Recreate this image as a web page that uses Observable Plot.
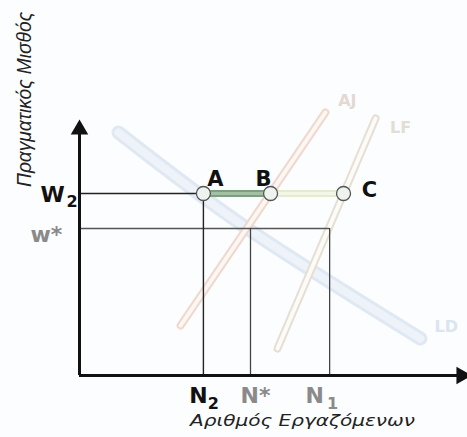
<!DOCTYPE html>
<html>
<head>
<meta charset="utf-8">
<script src="https://cdn.jsdelivr.net/npm/d3@7"></script>
<script src="https://cdn.jsdelivr.net/npm/@observablehq/plot@0.6"></script>
<style>
  html, body { margin: 0; padding: 0; background: #ffffff; }
  svg { display: block; }
</style>
</head>
<body>
<div id="chart"></div>
<script>
// ---- data (abstract units: employment 0–100, real wage 0–100) ----
const employment = { N2: 32.1, Nstar: 44.3, N1: 64.8 };
const wages = { W2: 72.8, wstar: 58.8 };

const demandLD = [ {x: 10.1, y: 97.2}, {x: 43.5, y: 58.8}, {x: 88.3, y: 14.8} ];
const supplyAJ = [ {x: 26.2, y: 20.0}, {x: 63.7, y: 105.2} ];
const laborForceLF = [ {x: 51.3, y: 10.8}, {x: 76.7, y: 102.8} ];

const pointNames = ["A", "B", "C"];
const pointX = [32.1, 49.5, 68.4];

const xTickMain = ["N", "N*", "N"];
const xTickSub = ["2", "", "1"];
const yTickMain = ["W", "w*"];
const yTickSub = ["2", ""];

const yTitle = "Πραγματικός Μισθός";
const xTitle = "Αριθμός Εργαζόμενων";
const curveNames = ["AJ", "LF", "LD"];

// ---- build ----
const pts = pointNames.map((n, i) => ({name: n, x: pointX[i], y: wages.W2}));
const font = "DejaVu Sans, Verdana, sans-serif";
const titleFont = "Liberation Sans, Arial, sans-serif";

function label(d, opts) {
  return Plot.text([d], Object.assign({fontFamily: font, fontWeight: "bold", fontSize: 21, lineAnchor: "middle"}, opts));
}

const xT = [employment.N2, employment.Nstar, employment.N1];
const yT = [wages.W2, wages.wstar];

const chart = Plot.plot({
  width: 467,
  height: 437,
  marginLeft: 79,
  marginRight: 2,
  marginTop: 125,
  marginBottom: 62,
  x: {domain: [0, 100], axis: null},
  y: {domain: [0, 100], axis: null},
  style: {background: "#fcfdfe", fontFamily: font, overflow: "visible"},
  marks: [
    // demand LD (light blue band)
    Plot.line(demandLD, {x: "x", y: "y", curve: "natural", stroke: "#dfe8f3", strokeWidth: 14}),
    Plot.line(demandLD, {x: "x", y: "y", curve: "natural", stroke: "#eef3f9", strokeWidth: 8}),
    // supply AJ
    Plot.line(supplyAJ, {x: "x", y: "y", stroke: "#efd9cf", strokeWidth: 8}),
    Plot.line(supplyAJ, {x: "x", y: "y", stroke: "#fcf7f3", strokeWidth: 4}),
    // labour force LF
    Plot.line(laborForceLF, {x: "x", y: "y", stroke: "#e5dfd4", strokeWidth: 8}),
    Plot.line(laborForceLF, {x: "x", y: "y", stroke: "#fcfbf7", strokeWidth: 4}),

    // guide lines
    Plot.ruleY([wages.W2], {x1: 0, x2: employment.N2, stroke: "#222", strokeWidth: 1.4}),
    Plot.ruleY([wages.wstar], {x1: 0, x2: employment.N1, stroke: "#555", strokeWidth: 1.3}),
    Plot.ruleX([employment.N2], {y1: 0, y2: wages.W2, stroke: "#222", strokeWidth: 1.4}),
    Plot.ruleX([employment.Nstar], {y1: 0, y2: wages.wstar, stroke: "#444", strokeWidth: 1.3}),
    Plot.ruleX([employment.N1], {y1: 0, y2: wages.wstar, stroke: "#444", strokeWidth: 1.3}),

    // A–B (unemployment) and B–C segments
    Plot.ruleY([wages.W2], {x1: pts[0].x, x2: pts[1].x, stroke: "#7d9f80", strokeWidth: 7}),
    Plot.ruleY([wages.W2], {x1: pts[0].x, x2: pts[1].x, stroke: "#a3c0a4", strokeWidth: 3}),
    Plot.ruleY([wages.W2], {x1: pts[1].x, x2: pts[2].x, stroke: "#e6ead2", strokeWidth: 7}),
    Plot.ruleY([wages.W2], {x1: pts[1].x, x2: pts[2].x, stroke: "#f4f6e8", strokeWidth: 3}),

    // axes
    Plot.ruleX([0], {y1: 0, y2: 98, stroke: "#111", strokeWidth: 3}),
    Plot.ruleY([0], {x1: 0, x2: 98, stroke: "#111", strokeWidth: 3}),
    Plot.dot([{x: 0, y: 100}], {x: "x", y: "y", symbol: "triangle", r: 6.5, fill: "#111", dy: 4}),
    Plot.dot([{x: 100, y: 0}], {x: "x", y: "y", symbol: "triangle", r: 6.5, fill: "#111", rotate: 90, dx: -4}),

    // points A, B, C
    Plot.dot(pts, {x: "x", y: "y", r: 7, fill: "#eef3ef", stroke: "#555", strokeWidth: 1.3}),
    label(pts[0], {x: "x", y: "y", text: "name", dx: 12, dy: -14, fill: "#111"}),
    label(pts[1], {x: "x", y: "y", text: "name", dx: -7, dy: -14, fill: "#111"}),
    label(pts[2], {x: "x", y: "y", text: "name", dx: 26, dy: -3, fill: "#111"}),

    // curve labels (faint)
    label(supplyAJ[1], {x: "x", y: "y", text: () => curveNames[0], dx: 22, dy: -12, fill: "#e4d8d2", fontSize: 16}),
    label(laborForceLF[1], {x: "x", y: "y", text: () => curveNames[1], dx: 25, dy: 9, fill: "#e2ded5", fontSize: 16}),
    label(demandLD[2], {x: "x", y: "y", text: () => curveNames[2], dx: 26, dy: -12, fill: "#dbe5ef", fontSize: 16}),

    // x tick labels
    label({x: xT[0]}, {x: "x", text: () => xTickMain[0], frameAnchor: "bottom", dx: -5, dy: 20, fill: "#111", fontSize: 22}),
    label({x: xT[0]}, {x: "x", text: () => xTickSub[0], frameAnchor: "bottom", dx: 10, dy: 28, fill: "#111", fontSize: 16}),
    label({x: xT[1]}, {x: "x", text: () => xTickMain[1], frameAnchor: "bottom", dx: 5, dy: 20, fill: "#8a8a8a", fontSize: 22}),
    label({x: xT[2]}, {x: "x", text: () => xTickMain[2], frameAnchor: "bottom", dx: -15, dy: 20, fill: "#8a8a8a", fontSize: 22}),
    label({x: xT[2]}, {x: "x", text: () => xTickSub[2], frameAnchor: "bottom", dx: 3, dy: 28, fill: "#8a8a8a", fontSize: 16}),

    // y tick labels
    label({y: yT[0]}, {y: "y", text: () => yTickMain[0], frameAnchor: "left", textAnchor: "start", dx: -39, dy: 1, fill: "#111", fontSize: 22}),
    label({y: yT[0]}, {y: "y", text: () => yTickSub[0], frameAnchor: "left", textAnchor: "start", dx: -13, dy: 8, fill: "#111", fontSize: 16}),
    label({y: yT[1]}, {y: "y", text: () => yTickMain[1], frameAnchor: "left", textAnchor: "start", dx: -49, dy: 6, fill: "#8a8a8a", fontSize: 22}),

    // axis titles
    Plot.text([yTitle], {text: d => d, frameAnchor: "top-left", textAnchor: "middle", lineAnchor: "middle",
      rotate: -90, dx: -55, dy: -26,
      fontFamily: titleFont, fontStyle: "italic", fontSize: 21, fill: "#222"}),
    Plot.text([xTitle], {text: d => d, frameAnchor: "bottom", textAnchor: "middle", lineAnchor: "middle",
      dx: 30, dy: 46,
      fontFamily: font, fontStyle: "italic", fontSize: 15, fill: "#222"})
  ]
});

// stretch the two axis titles to the lengths they have in the picture
d3.select(chart).selectAll("text")
  .filter(function () { return this.textContent === xTitle; })
  .attr("textLength", 225).attr("lengthAdjust", "spacingAndGlyphs");
d3.select(chart).selectAll("text")
  .filter(function () { return this.textContent === yTitle; })
  .attr("textLength", 175).attr("lengthAdjust", "spacingAndGlyphs");

document.getElementById("chart").appendChild(chart);
</script>
</body>
</html>
